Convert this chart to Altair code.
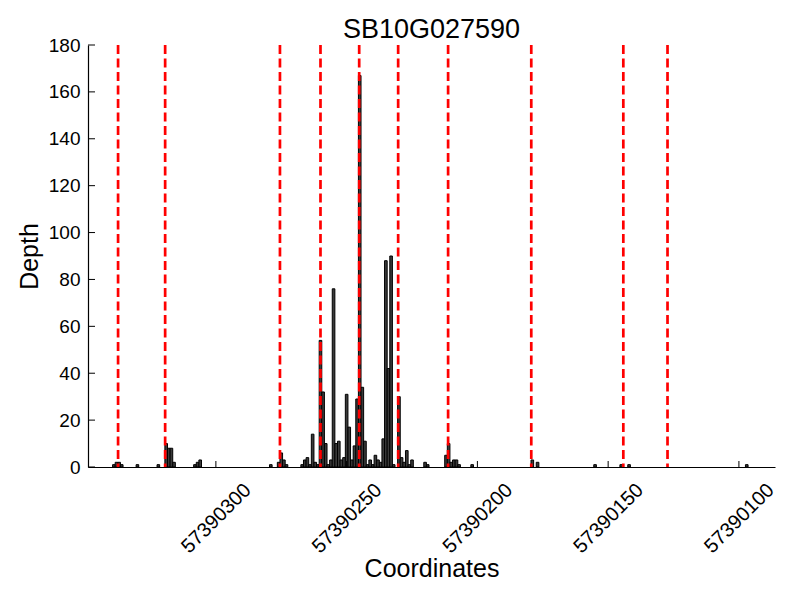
import altair as alt
import pandas as pd

chart_title = "SB10G027590"
x_title = "Coordinates"
y_title = "Depth"

positions = [
    57390339, 57390338, 57390337, 57390336, 57390330, 57390322,
    57390319, 57390318, 57390317, 57390316, 57390308, 57390307, 57390306,
    57390279, 57390276, 57390275, 57390274, 57390273,
    57390267, 57390266, 57390265, 57390264, 57390263, 57390262, 57390261,
    57390260, 57390259, 57390258, 57390257, 57390256, 57390255, 57390254,
    57390253, 57390252, 57390251, 57390250, 57390249, 57390248, 57390247,
    57390246, 57390245, 57390244, 57390243, 57390242, 57390241, 57390240,
    57390239, 57390238, 57390237, 57390236, 57390235, 57390234, 57390233,
    57390232, 57390230, 57390229, 57390228, 57390227, 57390226, 57390225,
    57390220, 57390219, 57390212, 57390211, 57390210, 57390209, 57390208,
    57390207, 57390202,
    57390179, 57390177, 57390155, 57390145, 57390142, 57390097,
]
depths = [
    1, 2, 2, 1, 1, 1,
    10, 8, 8, 2, 1, 2, 3,
    1, 2, 6, 3, 1,
    1, 3, 4, 1, 14, 2, 1,
    54, 32, 10, 1, 3, 76, 10,
    11, 3, 4, 31, 17, 3, 9,
    29, 167, 34, 11, 1, 3, 1,
    5, 3, 2, 12, 88, 42, 90,
    1, 30, 4, 2, 7, 1, 3,
    2, 1, 5, 10, 2, 3, 3,
    1, 1,
    3, 2, 1, 1, 1, 1,
]
boundaries = [
    57390337.4, 57390319.4, 57390275.5, 57390260.0, 57390245.2,
    57390230.3, 57390211.2, 57390179.4, 57390144.2, 57390127.3,
]
x_ticks = [57390300, 57390250, 57390200, 57390150, 57390100]
y_ticks = [0, 20, 40, 60, 80, 100, 120, 140, 160, 180]
x_domain = [57390086.2, 57390348.9]
y_domain = [0, 180]

FONT = "Liberation Sans"
W, H = 687, 422

bars_df = pd.DataFrame({"pos": positions, "depth": depths})
bars_df["start"] = bars_df["pos"] - 0.5
bars_df["end"] = bars_df["pos"] + 0.5
bars_df["base"] = 0
bounds_df = pd.DataFrame({"start": boundaries})
xt_df = pd.DataFrame({"start": x_ticks})
yt_df = pd.DataFrame({"depth": y_ticks})

xscale = alt.Scale(domain=x_domain, reverse=True, nice=False, zero=False)
yscale = alt.Scale(domain=y_domain, nice=False, zero=True)

x_axis = alt.Axis(values=x_ticks, format="d", labelAngle=-45,
                  labelAlign="center", labelBaseline="middle",
                  labelPadding=51, tickSize=0, ticks=False, grid=False,
                  labelFontSize=20, labelFont=FONT, labelColor="black",
                  titleFont=FONT, titleFontSize=25, titleFontWeight="normal",
                  titleColor="black", titleBaseline="alphabetic",
                  titleY=109, titleX=W / 2, titleAlign="center",
                  domainColor="black", domainWidth=1.2, labelOverlap=False)
y_axis = alt.Axis(values=y_ticks, tickSize=0, ticks=False, grid=False, labelPadding=8,
                  labelFontSize=19, labelFont=FONT, labelColor="black",
                  titleFont=FONT, titleFontSize=25, titleFontWeight="normal",
                  titleColor="black", titleAngle=-90, titleBaseline="alphabetic",
                  titleAlign="center", titleX=-51, titleY=H / 2,
                  domainColor="black", domainWidth=1.2, labelOverlap=False)

bars = alt.Chart(bars_df).mark_bar(
    fill="#3a3a3a", stroke="black", strokeWidth=1, clip=True
).encode(
    x=alt.X("start:Q", scale=xscale, title=x_title, axis=x_axis),
    x2="end:Q",
    y=alt.Y("depth:Q", scale=yscale, title=y_title, axis=y_axis),
    y2="base:Q",
)

red_lines = alt.Chart(bounds_df).mark_rule(
    color="red", strokeWidth=2.7, strokeDash=[9, 4.5]
).encode(x=alt.X("start:Q", scale=xscale, title=x_title))

x_tick_marks = alt.Chart(xt_df).mark_rule(color="black", strokeWidth=1).encode(
    x=alt.X("start:Q", scale=xscale, title=x_title),
    y=alt.value(H), y2=alt.value(H - 6),
)
y_tick_marks = alt.Chart(yt_df).mark_rule(color="black", strokeWidth=1).encode(
    y=alt.Y("depth:Q", scale=yscale, title=y_title),
    x=alt.value(0), x2=alt.value(7),
)

chart = alt.layer(bars, red_lines, x_tick_marks, y_tick_marks).properties(
    width=W, height=H,
    title=alt.TitleParams(chart_title, font=FONT, fontSize=27, fontWeight="normal",
                          color="black", anchor="middle", frame="group",
                          baseline="alphabetic", offset=0, dy=29),
    padding={"left": 80, "top": 37, "right": 15, "bottom": 120},
    autosize=alt.AutoSizeParams(type="none"),
).configure_view(stroke=None)

chart.save("out.html", embed_options={"renderer": "svg", "actions": False})
